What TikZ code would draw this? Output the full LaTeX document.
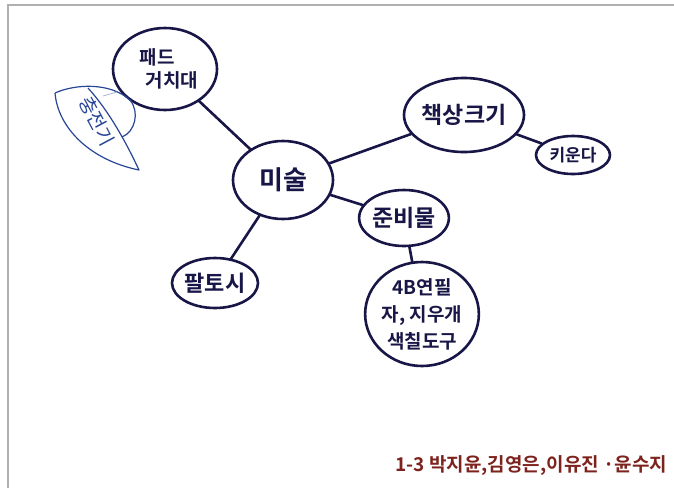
\documentclass[tikz,border=0pt]{standalone}
\usepackage{fontspec}
\newfontfamily\kr{Noto Sans CJK KR}[BoldFont={* Bold}]
\usetikzlibrary{shapes.geometric}
\definecolor{ink}{RGB}{24,22,70}
\definecolor{blueink}{RGB}{40,70,150}
\definecolor{redink}{RGB}{125,35,30}
\definecolor{frame}{RGB}{176,176,176}
\begin{document}
\begin{tikzpicture}[x=1pt,y=-1pt,
  bubble/.style={ellipse,draw=ink,line width=2.6pt,inner sep=0pt,text=ink,font=\kr\bfseries,align=center},
  link/.style={draw=ink,line width=2.6pt,line cap=round}]
\useasboundingbox (0,0) rectangle (674,488);
\fill[white] (0,0) rectangle (674,488);
\draw[frame,line width=2.5pt] (8,488) -- (8,5) -- (674,5);

\node[bubble,minimum width=104pt,minimum height=82pt,font=\kr\bfseries\fontsize{19}{23}\selectfont] (pad) at (165,69) {패드\hspace*{16pt}\\\hspace*{14pt}거치대};
\node[bubble,minimum width=100pt,minimum height=78pt,font=\kr\bfseries\fontsize{26}{30}\selectfont] (art) at (283,180) {미술};
\node[bubble,minimum width=86pt,minimum height=50pt,font=\kr\bfseries\fontsize{22}{26}\selectfont] (arm) at (215,283) {팔토시};
\node[bubble,minimum width=120pt,minimum height=74pt,font=\kr\bfseries\fontsize{23}{26}\selectfont] (desk) at (464,115) {책상크기};
\node[bubble,minimum width=74pt,minimum height=38pt,font=\kr\bfseries\fontsize{17}{20}\selectfont] (grow) at (573,155) {키운다};
\node[bubble,minimum width=72pt,minimum height=56pt,font=\kr\bfseries\fontsize{23}{26}\selectfont] (prep) at (404,218) {준비물};
\node[bubble,minimum width=106pt,minimum height=104pt,font=\kr\bfseries\fontsize{19}{27}\selectfont] (items) at (422,314) {4B연필\\자, 지우개\\색칠도구};

\draw[link] (pad) -- (art);
\draw[link] (art) -- (arm);
\draw[link] (art) -- (desk);
\draw[link] (art) -- (prep);
\draw[link] (desk) -- (grow);
\draw[link] (prep) -- (items);

% blue leaf note
\draw[blueink,line width=1.2pt,line join=round]
  (55,93) .. controls (58,128) and (90,160) .. (139,170)
  .. controls (125,140) and (108,110) .. (88,88);
\draw[blueink,line width=1.2pt]
  (55,93) .. controls (75,84) and (110,82) .. (130,100)
  .. controls (140,112) and (135,132) .. (122,137);
\draw[blueink!40,line width=0.8pt] (103,96) -- (117,92);
\node[text=blueink,font=\kr\fontsize{19}{22}\selectfont,rotate=-62] (charger) at (97,121) {충전기};

\node[text=redink,font=\kr\bfseries\fontsize{19}{22}\selectfont,anchor=base west] (names) at (392,471) {1-3 박지윤,김영은,이유진 ·윤수지};
\end{tikzpicture}
\end{document}
